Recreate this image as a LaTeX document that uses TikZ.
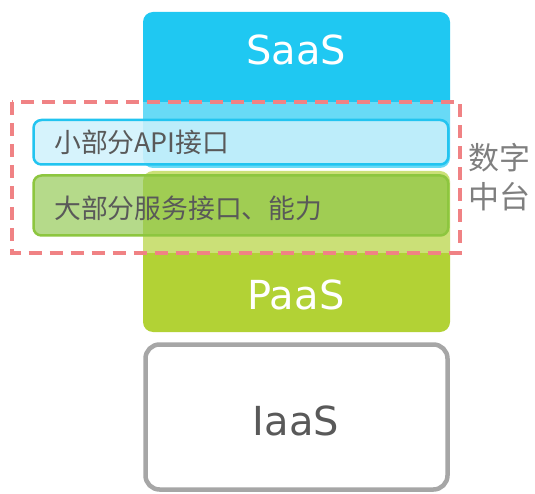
\documentclass[tikz,border=0pt]{standalone}
\usepackage{fontspec}
\setmainfont{DejaVu Sans}
\newfontfamily\cjk{Noto Sans CJK SC}
\definecolor{saasblue}{RGB}{31,200,242}
\definecolor{paasgreen}{RGB}{178,210,53}
\definecolor{iaasgray}{RGB}{166,166,166}
\definecolor{textgray}{RGB}{89,89,89}
\definecolor{sidegray}{RGB}{127,127,127}
\definecolor{dashred}{RGB}{240,130,132}
\definecolor{apifill}{RGB}{207,242,252}
\definecolor{apiline}{RGB}{34,196,240}
\definecolor{svcfill}{RGB}{132,193,60}
\definecolor{svcline}{RGB}{141,198,63}
\begin{document}
\begin{tikzpicture}[x=1pt,y=-1pt,
  layertxt/.style={text=white, font=\fontsize{40}{48}\selectfont, inner sep=0pt},
  boxtxt/.style={text=textgray, font=\cjk\fontsize{26.8}{32}\selectfont, inner sep=0pt, anchor=west},
  ifacebox/.style={line width=2.5pt, rounded corners=8pt},
  zone/.style={draw=dashred, line width=4pt, dash pattern=on 13pt off 8pt}]
\useasboundingbox (0,0) rectangle (535,494);

% service layers
\fill[saasblue, rounded corners=10pt] (143,12) rectangle (450,168);
\fill[paasgreen, rounded corners=10pt] (143,171) rectangle (450,332);
\draw[iaasgray, line width=4.5pt, rounded corners=14pt, fill=white]
  (145.5,344.5) rectangle (447.5,489.5);

% middle-platform zone: light veil over the layers
\fill[white, opacity=0.33] (11.5,102) rectangle (459.5,253);

% interface bars
\draw[ifacebox, draw=apiline, fill=apifill, fill opacity=0.83]
  (33.5,120) rectangle (448.3,164.5);
\draw[ifacebox, draw=svcline, fill=svcfill, fill opacity=0.6]
  (33.5,175.5) rectangle (448.3,235.5);

% zone outline
\draw[zone] (11.5,102) rectangle (459.5,253);

% labels
\node[layertxt] (saas) at (296,50) {SaaS};
\node[layertxt] (paas) at (296,295) {PaaS};
\node[layertxt, text=textgray] (iaas) at (296,421) {IaaS};
\node[boxtxt] (api) at (54,142) {小部分API接口};
\node[boxtxt] (svc) at (54,208) {大部分服务接口、能力};
\node[text=sidegray, font=\cjk\fontsize{31}{39}\selectfont, align=left, inner sep=0pt]
  (zonelabel) at (499,177) {数字\\中台};
\end{tikzpicture}
\end{document}
